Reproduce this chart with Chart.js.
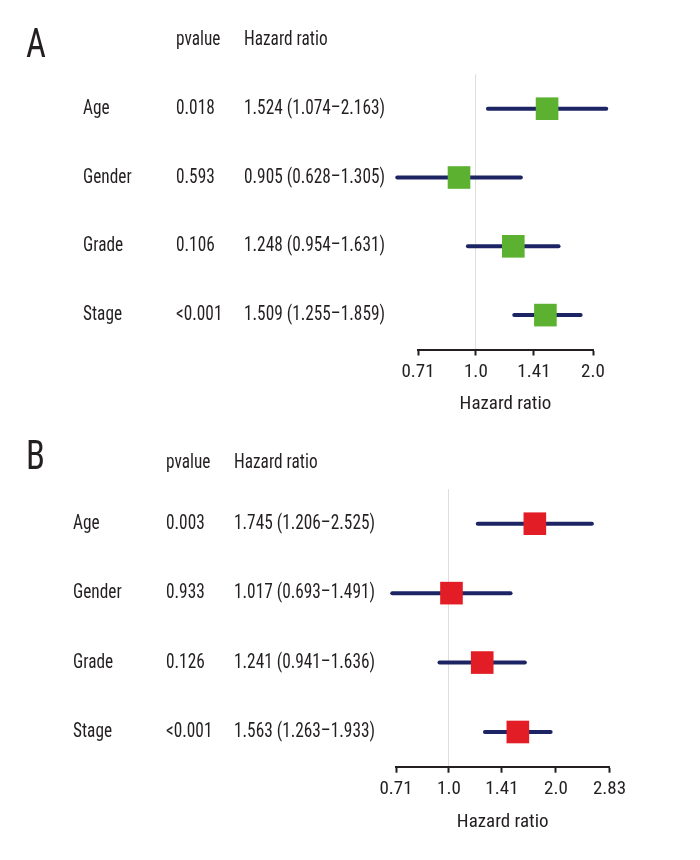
<!DOCTYPE html>
<html>
<head>
<meta charset="utf-8">
<title>Forest plots - hazard ratios</title>
<script src="https://cdn.jsdelivr.net/npm/chart.js@4.4.1/dist/chart.umd.min.js"></script>
<style>
  html, body { margin: 0; padding: 0; background: #ffffff; }
  canvas { display: block; }
</style>
</head>
<body>
<canvas id="chart-a" width="700" height="430"></canvas>
<canvas id="chart-b" width="700" height="430"></canvas>
<script>
// --- Data ---
const VARIABLES = ['Age', 'Gender', 'Grade', 'Stage'];

// Panel A
const PVALUES_A = ['0.018', '0.593', '0.106', '<0.001'];
const HR_A = [1.524, 0.905, 1.248, 1.509];
const LOWER_A = [1.074, 0.628, 0.954, 1.255];
const UPPER_A = [2.163, 1.305, 1.631, 1.859];
const TICKS_A = [0.71, 1.0, 1.41, 2.0];

// Panel B
const PVALUES_B = ['0.003', '0.933', '0.126', '<0.001'];
const HR_B = [1.745, 1.017, 1.241, 1.563];
const LOWER_B = [1.206, 0.693, 0.941, 1.263];
const UPPER_B = [2.525, 1.491, 1.636, 1.933];
const TICKS_B = [0.71, 1.0, 1.41, 2.0, 2.83];

// --- Styling ---
const FONT_FAMILY = "'Roboto Condensed', 'Liberation Sans Narrow', 'DejaVu Sans Condensed', sans-serif";
const FONT_SIZE = 20;
const AXIS_FONT_SIZE = 19;
const TEXT_COLOR = '#231f20';
const WHISKER_COLOR = '#1c2464';
const REF_LINE_COLOR = '#dedede';

// the original uses a condensed face; squeeze our table text to the same widths
const HR_TEXT_WIDTH = 141;   // width of "1.524 (1.074–2.163)" in the picture

Chart.defaults.font.family = FONT_FAMILY;
Chart.defaults.font.size = AXIS_FONT_SIZE;
Chart.defaults.color = TEXT_COLOR;

function fmt3(v) {
  return v.toFixed(3);
}

function tickLabel(v) {
  return Number.isInteger(v) ? v.toFixed(1) : String(v);
}

function hrText(hr, lo, hi) {
  return `${fmt3(hr)} (${fmt3(lo)}\u2013${fmt3(hi)})`;
}

function squeezeFactor(ctx) {
  ctx.save();
  ctx.font = `${FONT_SIZE}px ${FONT_FAMILY}`;
  const w = ctx.measureText(hrText(HR_A[0], LOWER_A[0], UPPER_A[0])).width;
  ctx.restore();
  return Math.min(1, HR_TEXT_WIDTH / w);
}

function drawSqueezed(ctx, text, x, y, sx) {
  ctx.save();
  ctx.translate(x, y);
  ctx.scale(sx, 1);
  ctx.fillText(text, 0, 0);
  ctx.restore();
}

/**
 * Draws the panel letter, column headers and the table text to the left of the plot.
 */
function makeTablePlugin(panel) {
  return {
    id: 'forestTable',
    afterDraw(chart) {
      const ctx = chart.ctx;
      const yScale = chart.scales.y;
      const sx = squeezeFactor(ctx);
      ctx.save();
      ctx.fillStyle = TEXT_COLOR;
      ctx.textAlign = 'left';
      ctx.textBaseline = 'alphabetic';

      ctx.font = `40px ${FONT_FAMILY}`;
      drawSqueezed(ctx, panel.letter, panel.letterX, panel.letterBaseline, sx);

      ctx.font = `${FONT_SIZE}px ${FONT_FAMILY}`;
      drawSqueezed(ctx, 'pvalue', panel.cols[1], panel.headerBaseline, sx);
      drawSqueezed(ctx, 'Hazard ratio', panel.cols[2], panel.headerBaseline, sx);

      VARIABLES.forEach((name, i) => {
        const y = yScale.getPixelForValue(i) + 5;
        drawSqueezed(ctx, name, panel.cols[0], y, sx);
        drawSqueezed(ctx, panel.pvalues[i], panel.cols[1], y, sx);
        drawSqueezed(ctx, hrText(panel.hr[i], panel.lower[i], panel.upper[i]), panel.cols[2], y, sx);
      });
      ctx.restore();
    },
  };
}

/**
 * Build one forest plot panel.
 */
function createForestPlot(canvasId, panel) {
  const squares = {
    label: 'HR',
    data: panel.hr.map((v, i) => ({ x: v, y: i })),
    pointStyle: 'rect',
    pointRadius: 16,
    pointHoverRadius: 16,
    backgroundColor: panel.color,
    pointBackgroundColor: panel.color,
    pointBorderWidth: 0,
    borderWidth: 0,
    clip: false,
    order: 0,
  };

  const whiskers = VARIABLES.map((name, i) => ({
    label: name + ' CI',
    data: [{ x: panel.lower[i], y: i }, { x: panel.upper[i], y: i }],
    showLine: true,
    borderColor: WHISKER_COLOR,
    borderWidth: 4,
    borderCapStyle: 'round',
    pointRadius: 0,
    pointHoverRadius: 0,
    clip: false,
    order: 1,
  }));

  const ticks = panel.ticks;

  return new Chart(document.getElementById(canvasId), {
    type: 'scatter',
    data: { datasets: [squares].concat(whiskers) },
    options: {
      responsive: false,
      animation: false,
      events: [],
      layout: { padding: panel.padding },
      plugins: {
        legend: { display: false },
        tooltip: { enabled: false },
      },
      scales: {
        x: {
          type: 'logarithmic',
          min: ticks[0],
          max: ticks[ticks.length - 1],
          bounds: 'data',
          afterBuildTicks: scale => {
            scale.ticks = ticks.map(v => ({ value: v }));
          },
          ticks: {
            padding: 5,
            autoSkip: false,
            maxRotation: 0,
            color: TEXT_COLOR,
            callback: v => tickLabel(v),
          },
          grid: {
            drawOnChartArea: true,
            drawTicks: true,
            tickLength: 6,
            tickWidth: 2,
            tickColor: TEXT_COLOR,
            lineWidth: 1,
            color: c => (c.tick && c.tick.value === 1 ? REF_LINE_COLOR : 'rgba(0,0,0,0)'),
          },
          border: { display: true, color: TEXT_COLOR, width: 2 },
          title: {
            display: true,
            text: 'Hazard ratio',
            color: TEXT_COLOR,
            padding: { top: 5, bottom: 0 },
          },
        },
        y: {
          type: 'linear',
          min: -0.5,
          max: 3.5,
          reverse: true,
          display: false,
        },
      },
    },
    plugins: [makeTablePlugin(panel)],
  });
}

// --- Render both panels ---
createForestPlot('chart-a', {
  letter: 'A',
  letterX: 26,
  letterBaseline: 57,
  headerBaseline: 45,
  cols: [83, 176, 244],
  pvalues: PVALUES_A,
  hr: HR_A,
  lower: LOWER_A,
  upper: UPPER_A,
  ticks: TICKS_A,
  color: '#5cb130',
  padding: { top: 74.3, left: 418, right: 107, bottom: 13.9 },
});

createForestPlot('chart-b', {
  letter: 'B',
  letterX: 26,
  letterBaseline: 39,
  headerBaseline: 38,
  cols: [73, 166, 234],
  pvalues: PVALUES_B,
  hr: HR_B,
  lower: LOWER_B,
  upper: UPPER_B,
  ticks: TICKS_B,
  color: '#e31d25',
  padding: { top: 59, left: 396, right: 90.5, bottom: 26.7 },
});
</script>
</body>
</html>
